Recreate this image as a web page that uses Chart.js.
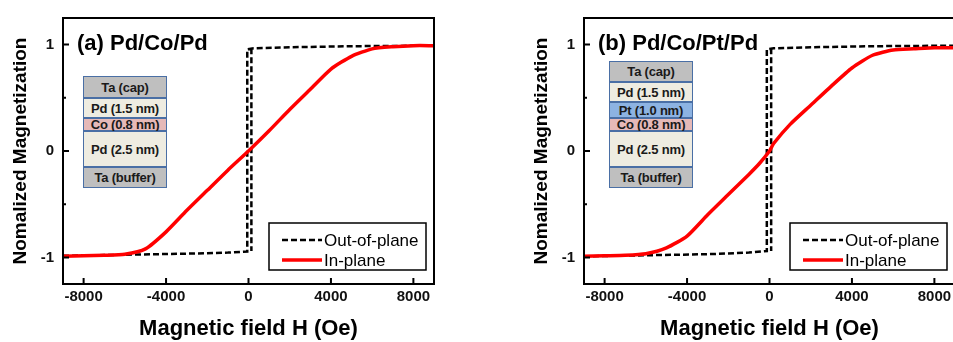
<!DOCTYPE html>
<html>
<head>
<meta charset="utf-8">
<script src="https://cdn.jsdelivr.net/npm/chart.js@4.4.1/dist/chart.umd.min.js"></script>
<style>
  body { margin: 0; width: 953px; height: 342px; overflow: hidden; background: #fff; position: relative; }
  .panel { position: absolute; top: 0; width: 480px; height: 342px; }
  .panel canvas { position: absolute; left: 0; top: 0; }
  .layer {
    position: absolute; box-sizing: border-box; width: 84px;
    border: 1.5px solid #4a6fa5; color: #1a1a1a;
    font: bold 13px 'Liberation Sans', Arial, sans-serif; letter-spacing: -0.2px;
    display: flex; align-items: center; justify-content: center;
  }
  .ta { background: #bfbfbf; }
  .pd { background: #eeece1; }
  .co { background: #e6b9b8; }
  .pt { background: #8db3e2; }
</style>
</head>
<body>
<div class="panel" style="left:0">
  <canvas id="chartA" width="480" height="342"></canvas>
  <div class="layer ta" style="left:83px;top:76px;height:22px">Ta (cap)</div>
  <div class="layer pd" style="left:83px;top:98px;height:20px">Pd (1.5 nm)</div>
  <div class="layer co" style="left:83px;top:118px;height:13px">Co (0.8 nm)</div>
  <div class="layer pd" style="left:83px;top:131px;height:36px">Pd (2.5 nm)</div>
  <div class="layer ta" style="left:83px;top:167px;height:21px">Ta (buffer)</div>
</div>
<div class="panel" style="left:480px">
  <canvas id="chartB" width="480" height="342"></canvas>
  <div class="layer ta" style="left:129px;top:61px;height:21px">Ta (cap)</div>
  <div class="layer pd" style="left:129px;top:82px;height:20px">Pd (1.5 nm)</div>
  <div class="layer pt" style="left:129px;top:102px;height:16px">Pt (1.0 nm)</div>
  <div class="layer co" style="left:129px;top:118px;height:13px">Co (0.8 nm)</div>
  <div class="layer pd" style="left:129px;top:131px;height:36px">Pd (2.5 nm)</div>
  <div class="layer ta" style="left:129px;top:167px;height:21px">Ta (buffer)</div>
</div>
<script>
// hysteresis loops, field H in Oe, normalized M

// (a) Pd/Co/Pd
const inH_a = [-9000, -8000, -7000, -6000, -5000, -4000, -3000, -2000, -1000, 0, 1000, 2000, 3000, 4000, 5000, 6000, 7000, 8000, 9000];
const inM_a = [-0.99, -0.985, -0.98, -0.97, -0.92, -0.76, -0.56, -0.37, -0.18, 0.0, 0.19, 0.39, 0.58, 0.77, 0.89, 0.96, 0.98, 0.99, 0.99];
const outH_a = [-9000, -6000, -3000, -1000, -60, -60, 250, 2000, 5000, 9000, 140, 140, 140];
const outM_a = [-0.985, -0.975, -0.965, -0.955, -0.945, 0.955, 0.965, 0.975, 0.985, 0.99, null, 0.965, -0.94];

// (b) Pd/Co/Pt/Pd
const inH_b = [-9000, -8000, -7000, -6000, -5000, -4000, -3000, -2000, -1000, -500, 0, 200, 1000, 2000, 3000, 4000, 5000, 6000, 7000, 8000, 9000];
const inM_b = [-0.99, -0.985, -0.98, -0.965, -0.91, -0.80, -0.60, -0.41, -0.22, -0.12, 0.0, 0.07, 0.25, 0.43, 0.61, 0.78, 0.90, 0.95, 0.96, 0.97, 0.97];
const outH_b = [-9000, -6000, -3000, -1000, -130, -130, 200, 2000, 5000, 9000, 80, 80, 80];
const outM_b = [-0.99, -0.98, -0.97, -0.955, -0.94, 0.955, 0.965, 0.975, 0.985, 0.99, null, 0.965, -0.94];

const xTicks = [-8000, -4000, 0, 4000, 8000];
const yTicks = [-1, -0.5, 0, 0.5, 1];
const seriesNames = ['Out-of-plane', 'In-plane'];

const FONT = "'Liberation Sans', Arial, sans-serif";

function toPoints(hs, ms) {
    return hs.map((h, i) => ({ x: h, y: ms[i] }));
}

// box around plot area + inward ticks
const framePlugin = {
    id: 'frame',
    afterDraw(chart) {
        const { ctx, chartArea: a, scales } = chart;
        ctx.save();
        ctx.strokeStyle = '#000';
        ctx.lineWidth = 2;
        ctx.strokeRect(a.left, a.top, a.right - a.left, a.bottom - a.top);
        ctx.beginPath();
        scales.x.ticks.forEach(t => {
            const px = scales.x.getPixelForValue(t.value);
            ctx.moveTo(px, a.bottom);
            ctx.lineTo(px, a.bottom - 6);
        });
        scales.y.ticks.forEach(t => {
            const py = scales.y.getPixelForValue(t.value);
            const len = Number.isInteger(t.value) ? 6 : 3;
            ctx.moveTo(a.left, py);
            ctx.lineTo(a.left + len, py);
        });
        ctx.stroke();
        ctx.restore();
    }
};

// panel label inside the plot, top left
const panelTitlePlugin = {
    id: 'panelTitle',
    afterDraw(chart, args, opts) {
        const { ctx, chartArea: a } = chart;
        ctx.save();
        ctx.font = 'bold 22px ' + FONT;
        ctx.fillStyle = '#000';
        ctx.textBaseline = 'middle';
        ctx.fillText(opts.text, a.left + 14, a.top + 26);
        ctx.restore();
    }
};

// boxed legend at bottom right of the plot
const boxLegendPlugin = {
    id: 'boxLegend',
    afterDraw(chart) {
        const { ctx, chartArea: a } = chart;
        const w = 157, h = 47;
        const left = a.right - 8 - w, top = a.bottom - 14 - h;
        ctx.save();
        ctx.fillStyle = '#fff';
        ctx.fillRect(left, top, w, h);
        ctx.strokeStyle = '#000';
        ctx.lineWidth = 1.5;
        ctx.strokeRect(left, top, w, h);
        ctx.font = '17px ' + FONT;
        ctx.textBaseline = 'middle';
        chart.data.datasets.forEach((ds, i) => {
            const y = top + 17 + i * 20;
            ctx.beginPath();
            ctx.setLineDash(ds.borderDash || []);
            ctx.strokeStyle = ds.borderColor;
            ctx.lineWidth = ds.borderWidth;
            ctx.moveTo(left + 13, y);
            ctx.lineTo(left + 53, y);
            ctx.stroke();
            ctx.setLineDash([]);
            ctx.fillStyle = '#000';
            ctx.fillText(ds.label, left + 55, y + 1);
        });
        ctx.restore();
    }
};

function makeChart(id, title, inH, inM, outH, outM, pad) {
    return new Chart(document.getElementById(id), {
        type: 'scatter',
        data: {
            datasets: [{
                label: seriesNames[0],
                data: toPoints(outH, outM),
                showLine: true,
                borderColor: '#000',
                borderWidth: 2.5,
                borderDash: [6, 3],
                pointRadius: 0,
                spanGaps: false,
                order: 1
            }, {
                label: seriesNames[1],
                data: toPoints(inH, inM),
                showLine: true,
                borderColor: '#ff0000',
                borderWidth: 3.5,
                pointRadius: 0,
                tension: 0.2,
                order: 0
            }]
        },
        options: {
            responsive: false,
            animation: false,
            events: [],
            layout: { padding: pad },
            plugins: {
                legend: { display: false },
                tooltip: { enabled: false },
                panelTitle: { text: title }
            },
            scales: {
                x: {
                    min: -9000,
                    max: 9000,
                    afterBuildTicks: s => { s.ticks = xTicks.map(v => ({ value: v })); },
                    afterFit: s => { s.height = 58; },
                    grid: { display: false, drawTicks: false },
                    border: { display: false },
                    ticks: {
                        padding: 4,
                        color: '#111',
                        font: { family: FONT, size: 15, weight: 'bold' },
                        maxRotation: 0,
                        callback: v => String(v)
                    },
                    title: {
                        display: true,
                        text: 'Magnetic field H (Oe)',
                        color: '#000',
                        font: { family: FONT, size: 22, weight: 'bold' },
                        padding: { top: 0, bottom: 0 }
                    }
                },
                y: {
                    min: -1.25,
                    max: 1.25,
                    afterBuildTicks: s => { s.ticks = yTicks.map(v => ({ value: v })); },
                    afterFit: s => { s.width = 63; },
                    grid: { display: false, drawTicks: false },
                    border: { display: false },
                    ticks: {
                        padding: 9,
                        color: '#111',
                        font: { family: FONT, size: 15, weight: 'bold' },
                        callback: v => Number.isInteger(v) ? String(v) : ''
                    },
                    title: {
                        display: true,
                        text: 'Nomalized Magnetization',
                        color: '#000',
                        font: { family: FONT, size: 19, weight: 'bold' },
                        padding: { top: 9, bottom: 0 }
                    }
                }
            }
        },
        plugins: [framePlugin, panelTitlePlugin, boxLegendPlugin]
    });
}

makeChart('chartA', '(a) Pd/Co/Pd', inH_a, inM_a, outH_a, outM_a, { left: 0, top: 12, right: 46, bottom: 0 });
makeChart('chartB', '(b) Pd/Co/Pt/Pd', inH_b, inM_b, outH_b, outM_b, { left: 41, top: 12, right: 5, bottom: 0 });
</script>
</body>
</html>
